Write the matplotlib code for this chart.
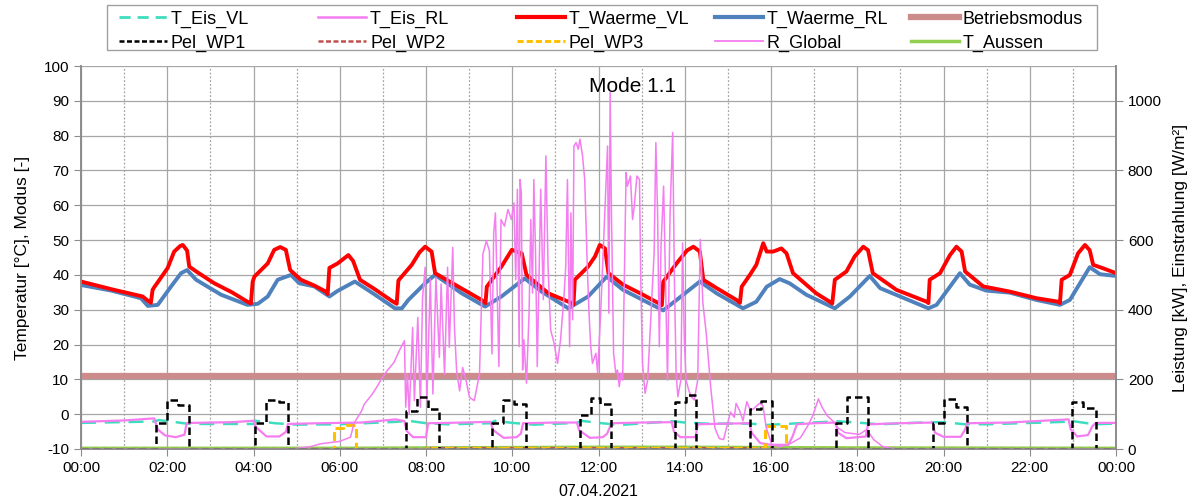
import matplotlib
matplotlib.use("Agg")
import matplotlib.pyplot as plt
from matplotlib.lines import Line2D
from matplotlib.patches import Rectangle

plt.rcParams['font.family'] = ['Liberation Sans', 'DejaVu Sans']
plt.rcParams['axes.unicode_minus'] = False

# ---------------- data (hours of 07.04.2021) ----------------
X_TICKS = [0, 2, 4, 6, 8, 10, 12, 14, 16, 18, 20, 22, 24]
X_LABELS = ["00:00", "02:00", "04:00", "06:00", "08:00", "10:00", "12:00",
            "14:00", "16:00", "18:00", "20:00", "22:00", "00:00"]
DATE_LABEL = "07.04.2021"

# left axis (°C / mode)
T_WAERME_VL = [(0, 38.1), (0.77, 35.7), (1.43, 33.8), (1.58, 32.3), (1.62, 32.0), (1.66, 35.7), (1.70, 36.5),
               (1.82, 38.6), (2.01, 42.0), (2.16, 46.7), (2.30, 48.3), (2.36, 48.6), (2.46, 47.0), (2.51, 42.4),
               (2.67, 41.0), (3.09, 37.6), (3.5, 35.0), (3.86, 32.3), (3.94, 31.8), (3.98, 38.0), (4.02, 39.5),
               (4.33, 43.3), (4.48, 47.2), (4.62, 48.0), (4.75, 47.2), (4.85, 41.4), (5.1, 38.6), (5.4, 37.0),
               (5.68, 35.2), (5.72, 34.5), (5.76, 42.0), (5.95, 43.3), (6.2, 45.7), (6.31, 44.0), (6.47, 38.6),
               (6.8, 36.0), (7.2, 32.6), (7.32, 31.7), (7.36, 38.4), (7.67, 42.9), (7.85, 46.5), (7.98, 48.1),
               (8.13, 46.7), (8.21, 40.5), (8.67, 37.2), (9.29, 32.8), (9.38, 31.9), (9.41, 36.6), (9.75, 42.4),
               (9.99, 47.2), (10.22, 46.2), (10.33, 40.0), (10.84, 34.7), (11.38, 31.9), (11.42, 31.5),
               (11.45, 38.6), (11.76, 42.4), (11.92, 45.3), (12.03, 48.6), (12.15, 47.6), (12.23, 40.5),
               (12.57, 37.2), (13.0, 34.5), (13.42, 31.7), (13.47, 31.3), (13.5, 38.0), (13.81, 43.3),
               (14.05, 47.0), (14.2, 48.1), (14.35, 46.7), (14.43, 38.6), (14.74, 36.2), (15.2, 32.8),
               (15.28, 32.0), (15.32, 36.6), (15.51, 40.0), (15.66, 42.9), (15.82, 49.1), (15.9, 46.7),
               (16.05, 46.7), (16.24, 47.6), (16.36, 46.2), (16.51, 40.5), (17.05, 34.7), (17.36, 32.3),
               (17.42, 31.8), (17.48, 38.6), (17.75, 41.0), (17.94, 45.3), (18.14, 48.1), (18.25, 47.1),
               (18.36, 40.5), (18.91, 35.7), (19.61, 32.3), (19.65, 31.9), (19.68, 38.6), (19.92, 40.5),
               (20.15, 45.7), (20.3, 48.1), (20.42, 46.7), (20.5, 41.0), (20.92, 36.7), (21.54, 35.2),
               (22.16, 33.3), (22.66, 32.3), (22.7, 31.9), (22.74, 38.6), (22.93, 40.0), (23.12, 46.2),
               (23.28, 48.6), (23.39, 47.1), (23.47, 42.9), (23.7, 41.9), (24.0, 40.5)]

T_WAERME_RL = [(0, 37.1), (0.7, 35.5), (1.39, 33.3), (1.55, 31.1), (1.78, 31.4), (2.09, 36.7), (2.32, 40.5),
               (2.46, 41.4), (2.67, 38.6), (3.25, 34.3), (3.86, 31.4), (4.1, 31.7), (4.33, 33.8), (4.56, 38.6),
               (4.87, 40.0), (5.06, 37.6), (5.41, 36.7), (5.76, 33.8), (5.95, 35.4), (6.35, 38.1), (6.82, 34.3),
               (7.28, 30.4), (7.44, 30.4), (7.59, 32.8), (7.98, 37.6), (8.21, 40.0), (8.83, 34.7), (9.37, 30.9),
               (9.75, 33.8), (10.29, 39.0), (10.68, 35.2), (11.3, 30.4), (11.76, 33.8), (12.19, 39.5),
               (12.57, 35.7), (13.5, 29.8), (13.81, 32.8), (14.35, 38.1), (14.74, 34.7), (15.35, 30.4),
               (15.66, 32.3), (15.9, 36.6), (16.2, 38.8), (16.43, 37.6), (16.82, 34.3), (17.48, 30.4),
               (17.83, 33.8), (18.29, 39.7), (18.53, 36.2), (19.65, 30.4), (19.84, 31.4), (20.38, 40.5),
               (20.61, 37.2), (20.99, 35.5), (21.54, 34.9), (22.16, 32.8), (22.7, 31.4), (22.93, 32.8),
               (23.39, 42.2), (23.63, 40.2), (24.0, 39.7)]

T_EIS_VL = [(0, -2.5), (1.7, -2.1), (1.8, -1.7), (2.2, -2.3), (2.5, -2.8), (4.0, -2.8), (4.05, -1.9),
            (4.5, -2.6), (5.0, -3.0), (6.0, -2.9), (7.3, -2.2), (7.6, -1.9), (8.0, -2.6), (8.5, -2.9),
            (9.5, -2.6), (9.6, -1.9), (10.0, -2.5), (10.5, -3.0), (11.5, -2.5), (11.6, -1.9), (12.0, -2.5),
            (12.5, -3.1), (13.4, -2.3), (13.7, -2.0), (14.0, -2.4), (14.5, -2.7), (15.5, -2.7), (15.9, -3.1),
            (16.5, -2.7), (17.3, -2.2), (17.5, -2.0), (18.0, -2.4), (18.5, -2.9), (19.7, -2.3), (20.0, -2.3),
            (20.5, -2.9), (21.0, -2.9), (22.8, -2.2), (23.0, -2.0), (23.5, -2.9), (24.0, -2.7)]

T_EIS_RL = [(0, -2.2), (1.0, -1.8), (1.7, -1.2), (1.78, -4.4), (1.95, -6.1), (2.2, -6.6), (2.4, -5.9),
            (2.45, -2.6), (2.55, -2.5), (3.5, -2.3), (4.0, -1.9), (4.05, -3.6), (4.3, -6.4), (4.6, -6.4),
            (4.75, -5.1), (4.8, -2.8), (5.5, -2.6), (6.5, -2.4), (7.3, -1.5), (7.5, -2.0), (7.55, -4.8),
            (7.7, -6.6), (8.0, -6.6), (8.05, -2.6), (8.5, -2.5), (9.5, -2.2), (9.55, -4.5), (9.8, -6.8),
            (10.1, -6.6), (10.2, -5.6), (10.25, -2.6), (11.0, -2.4), (11.5, -2.4), (11.55, -4.6),
            (11.8, -6.8), (12.1, -6.6), (12.2, -5.6), (12.3, -2.6), (13.0, -2.4), (13.7, -2.3),
            (13.75, -5.0), (13.9, -6.6), (14.25, -6.6), (14.3, -2.9), (15.0, -2.7), (15.5, -2.6),
            (15.55, -5.3), (15.75, -8.3), (16.0, -8.8), (16.4, -8.8), (16.5, -6.4), (16.6, -2.9),
            (17.0, -2.6), (17.5, -2.4), (17.55, -5.3), (17.75, -6.9), (18.2, -6.4), (18.25, -2.9),
            (19.0, -2.6), (19.75, -2.4), (19.8, -5.3), (20.0, -6.5), (20.4, -6.5), (20.5, -4.4),
            (20.55, -2.6), (21.5, -2.4), (22.9, -1.5), (22.95, -4.4), (23.1, -6.4), (23.35, -6.0),
            (23.45, -3.5), (23.53, -2.5), (24.0, -2.5)]

BETRIEBSMODUS = [(0, 11), (24, 11)]

# right axis (kW / W/m²)
PEL_WP1_T = [0, 1.75, 2.0, 2.25, 2.5, 4.03, 4.29, 4.6, 4.79, 7.54, 7.79, 8.04, 8.29, 9.54, 9.79, 10.04,
             10.32, 11.56, 11.82, 12.04, 12.29, 13.78, 14.02, 14.27, 15.52, 15.77, 16.02, 17.51, 17.76,
             18.26, 19.75, 20.0, 20.29, 20.54, 22.99, 23.24, 23.53, 24]
PEL_WP1_V = [0, 74, 140, 125, 0, 74, 140, 134, 0, 108, 150, 115, 0, 74, 140, 130,
             0, 98, 147, 130, 0, 134, 155, 0, 114, 138, 0, 76, 148,
             0, 76, 144, 121, 0, 134, 118, 0, 0]

PEL_WP2_T = [0, 8.0, 16.0, 24]
PEL_WP2_V = [0, 2, 0, 0]

PEL_WP3_T = [0, 5.875, 6.08, 6.375, 8.0, 15.85, 16.35, 24]
PEL_WP3_V = [0, 59, 69, 0, 3, 66, 0, 0]

R_GLOBAL = [(0, 0), (4.9, 0), (5.33, 7), (5.56, 15), (6.0, 22), (6.25, 34), (6.33, 74), (6.5, 108),
            (6.57, 129), (6.75, 157), (6.88, 182), (6.96, 200), (7.1, 225), (7.26, 249), (7.38, 282),
            (7.5, 311), (7.53, 120), (7.57, 215), (7.61, 100), (7.69, 349), (7.73, 139), (7.81, 378),
            (7.87, 120), (7.92, 435), (7.98, 522), (8.02, 139), (8.10, 488), (8.16, 158), (8.23, 493),
            (8.31, 263), (8.35, 474), (8.43, 215), (8.50, 522), (8.54, 292), (8.62, 579), (8.66, 349),
            (8.71, 225), (8.78, 167), (8.85, 234), (8.93, 196), (9.01, 148), (9.12, 139), (9.24, 215),
            (9.32, 560), (9.40, 598), (9.47, 569), (9.53, 273), (9.57, 620), (9.61, 678), (9.69, 237),
            (9.74, 659), (9.82, 640), (9.90, 688), (9.98, 659), (10.04, 707), (10.08, 486), (10.12, 746),
            (10.16, 294), (10.18, 774), (10.21, 736), (10.24, 227), (10.27, 314), (10.33, 189), (10.39, 390),
            (10.43, 659), (10.47, 448), (10.50, 774), (10.54, 563), (10.58, 237), (10.66, 746), (10.72, 429),
            (10.78, 842), (10.83, 525), (10.89, 342), (10.97, 304), (11.05, 246), (11.12, 314), (11.20, 438),
            (11.24, 525), (11.28, 774), (11.33, 294), (11.36, 678), (11.40, 371), (11.43, 870), (11.48, 880),
            (11.53, 861), (11.57, 890), (11.63, 842), (11.68, 774), (11.74, 525), (11.78, 390), (11.82, 294),
            (11.86, 246), (11.94, 275), (11.98, 218), (12.05, 390), (12.13, 630), (12.21, 870), (12.24, 390),
            (12.27, 1024), (12.30, 678), (12.35, 275), (12.40, 218), (12.44, 227), (12.48, 179), (12.52, 218),
            (12.56, 198), (12.64, 794), (12.67, 755), (12.74, 784), (12.79, 659), (12.83, 698), (12.89, 784),
            (12.95, 774), (12.98, 486), (13.02, 246), (13.08, 160), (13.14, 198), (13.22, 390), (13.29, 563),
            (13.33, 880), (13.37, 678), (13.41, 294), (13.45, 582), (13.51, 755), (13.57, 390), (13.60, 198),
            (13.66, 678), (13.72, 909), (13.76, 486), (13.80, 218), (13.84, 150), (13.91, 198), (13.95, 592),
            (13.99, 314), (14.03, 198), (14.09, 170), (14.15, 150), (14.22, 141), (14.30, 198), (14.36, 602),
            (14.42, 420), (14.5, 330), (14.6, 180), (14.7, 60), (14.8, 30), (14.9, 27), (15.06, 106),
            (15.15, 91), (15.19, 131), (15.27, 111), (15.35, 81), (15.44, 136), (15.52, 111), (15.6, 116),
            (15.73, 131), (15.81, 126), (15.89, 61), (16.02, 12), (16.22, 7), (16.47, 17), (16.68, 32),
            (16.85, 66), (16.97, 96), (17.1, 144), (17.18, 121), (17.3, 96), (17.43, 81), (17.55, 61),
            (17.72, 47), (18.05, 42), (18.22, 56), (18.38, 27), (18.59, 7), (18.8, 2), (19.0, 0), (24.0, 0)]

T_AUSSEN = [(0, 2), (6, 2), (8, 3), (10, 4), (12, 5), (14, 5), (16, 4), (18, 3), (24, 2)]

MODE_TEXT = "Mode 1.1"

LEG_ROW1 = ['T_Eis_VL', 'T_Eis_RL', 'T_Waerme_VL', 'T_Waerme_RL', 'Betriebsmodus']
LEG_ROW2 = ['Pel_WP1', 'Pel_WP2', 'Pel_WP3', 'R_Global', 'T_Aussen']

# ---------------- styles ----------------
C_EIS_VL = '#3FDDBF'
C_PINK = '#F47DF0'
C_RED = '#FF0000'
C_BLUE = '#4F81BD'
C_MODE = '#CC8C8C'
C_WP2 = '#C0504D'
C_WP3 = '#FFC000'
C_AUSSEN = '#92D050'
GRID = '#A6A6A6'
AXC = '#8C8C8C'
FS_TICK = 11
FS_LAB = 12.5
FS_LEG = 13


def xy(pairs):
    return [p[0] for p in pairs], [p[1] for p in pairs]


W, H = 1197, 504
fig = plt.figure(figsize=(W / 100, H / 100), dpi=100)
ax = fig.add_axes([81 / W, 1 - 449 / H, (1116 - 81) / W, (449 - 66) / H])
ax2 = ax.twinx()

ax.set_xlim(0, 24)
ax.set_ylim(-10, 100)
ax2.set_ylim(0, 1100)

ax.set_xticks(X_TICKS)
ax.set_xticks(range(1, 24, 2), minor=True)
ax.set_xticklabels(X_LABELS, fontsize=FS_TICK)
ax.set_yticks(range(-10, 101, 10))
ax.tick_params(axis='y', labelsize=FS_TICK, color=AXC, length=5)
ax.tick_params(axis='x', which='major', labelsize=FS_TICK, color=AXC, length=5)
ax.tick_params(axis='x', which='minor', length=0)
ax.grid(True, which='major', axis='both', color=GRID, lw=0.9, ls='-')
ax.grid(True, which='minor', axis='x', color=GRID, lw=0.9, ls=(0, (1.5, 1.5)))
ax.set_axisbelow(True)

ax2.set_yticks(range(0, 1001, 200))
ax2.tick_params(axis='y', labelsize=FS_TICK, color=AXC, length=5)

for a in (ax, ax2):
    a.spines['top'].set_visible(False)
    for s in ('left', 'right', 'bottom'):
        a.spines[s].set_color(AXC)
        a.spines[s].set_linewidth(1.2)

ax.set_ylabel("Temperatur [°C], Modus [-]", fontsize=FS_LAB, labelpad=10)
ax2.set_ylabel("Leistung [kW], Einstrahlung [W/m²]", fontsize=FS_LAB, labelpad=8)
fig.text(598 / W, 1 - 492 / H, DATE_LABEL, ha='center', va='center', fontsize=11.5)

# left-axis series
t, v = xy(BETRIEBSMODUS)
ax.plot(t, v, color=C_MODE, lw=4.5, solid_capstyle='butt')
t, v = xy(T_WAERME_RL)
ax.plot(t, v, color=C_BLUE, lw=2.8)
t, v = xy(T_WAERME_VL)
ax.plot(t, v, color=C_RED, lw=2.8)
t, v = xy(T_EIS_VL)
ax.plot(t, v, color=C_EIS_VL, lw=1.8, ls=(0, (6, 3.5)))
t, v = xy(T_EIS_RL)
ax.plot(t, v, color=C_PINK, lw=1.6)

# right-axis series
t, v = xy(T_AUSSEN)
ax2.plot(t, v, color=C_AUSSEN, lw=2.5)
ax2.plot(PEL_WP2_T, PEL_WP2_V, color=C_WP2, lw=1.6, ls=(0, (3, 1.5)), drawstyle='steps-post')
ax2.plot(PEL_WP3_T, PEL_WP3_V, color=C_WP3, lw=2.2, ls=(0, (3, 1.5)), drawstyle='steps-post')
t, v = xy(R_GLOBAL)
ax2.plot(t, v, color=C_PINK, lw=1.1)
ax2.plot(PEL_WP1_T, PEL_WP1_V, color='black', lw=1.8, ls=(0, (3, 1.6)), drawstyle='steps-post')

ax.text(12.78, 94.2, MODE_TEXT, ha='center', va='center', fontsize=15)

# legend: frame + 5 columns of 2 entries
fig.add_artist(Rectangle((107 / W, 1 - 50 / H), 990 / W, 45 / H, transform=fig.transFigure,
                         facecolor='white', edgecolor='#A0A0A0', lw=1.0, zorder=1))
row1_handles = [
    Line2D([], [], color=C_EIS_VL, lw=2, ls=(0, (4, 2.5))),
    Line2D([], [], color=C_PINK, lw=1.8),
    Line2D([], [], color=C_RED, lw=3),
    Line2D([], [], color=C_BLUE, lw=3),
    Line2D([], [], color=C_MODE, lw=4.5),
]
row2_handles = [
    Line2D([], [], color='black', lw=1.8, ls=(0, (2, 1))),
    Line2D([], [], color=C_WP2, lw=1.8, ls=(0, (2, 1))),
    Line2D([], [], color=C_WP3, lw=2.2, ls=(0, (2, 1))),
    Line2D([], [], color=C_PINK, lw=1.3),
    Line2D([], [], color=C_AUSSEN, lw=2.5),
]
col_x = [119, 318, 517, 715, 911]
for i in range(5):
    lg = fig.legend([row1_handles[i], row2_handles[i]], [LEG_ROW1[i], LEG_ROW2[i]],
                    loc='upper left', bbox_to_anchor=(col_x[i] / W, 1 - 10.5 / H),
                    fontsize=FS_LEG, handlelength=2.66, handletextpad=0.22, frameon=False,
                    borderpad=0.0, labelspacing=0.38, borderaxespad=0.0)
    lg.set_zorder(5)

fig.savefig('out.png', dpi=100)
